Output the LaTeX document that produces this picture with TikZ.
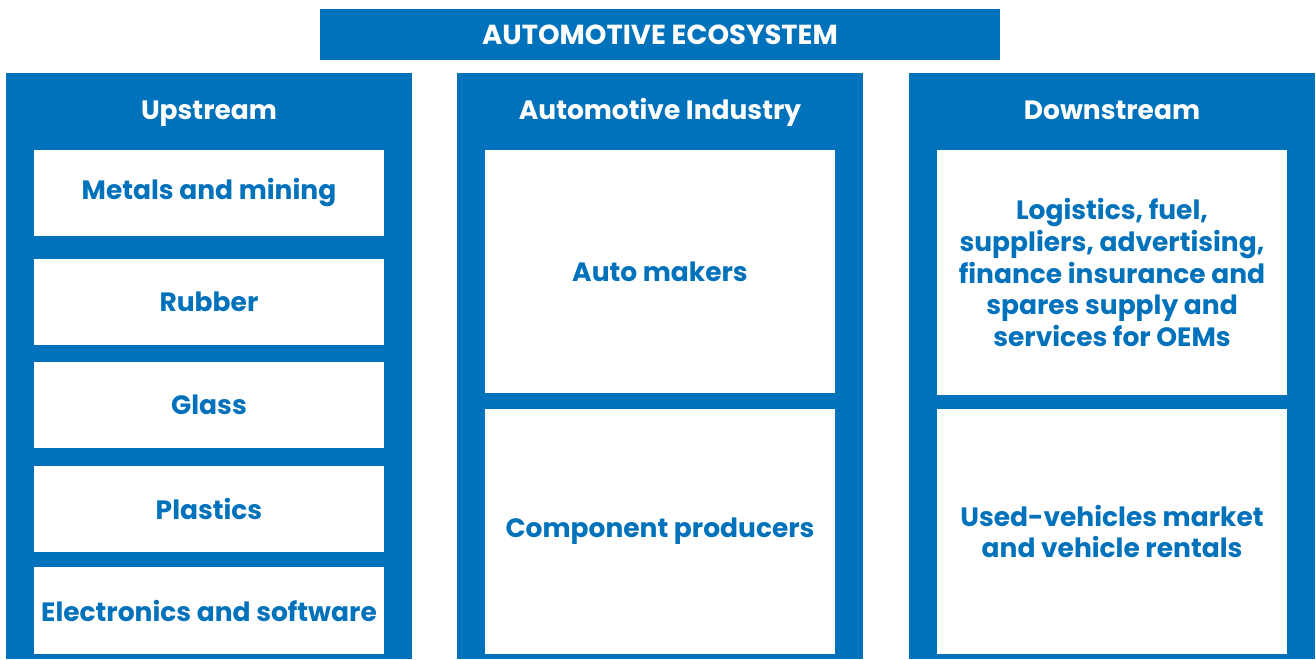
\documentclass[tikz,border=0pt]{standalone}
\usepackage{fontspec}
\setmainfont{Poppins}
\definecolor{eco}{HTML}{0072BB}
\begin{document}
\begin{tikzpicture}[x=1pt,y=-1pt,
  every node/.style={inner sep=0pt,outer sep=0pt,font=\bfseries},
  col/.style={fill=eco,anchor=north west,minimum width=406pt,minimum height=586pt},
  inbox/.style={fill=white,anchor=north west,minimum width=350pt,text=eco,align=center,font=\bfseries\fontsize{26.5}{31.8}\selectfont},
  head/.style={text=white,anchor=base,font=\bfseries\fontsize{26.5}{30}\selectfont},
]
\useasboundingbox (0,0) rectangle (1316,659);
\node[fill=eco,anchor=north west,minimum width=680pt,minimum height=51pt,text=white,font=\bfseries\fontsize{27.5}{30}\selectfont] (title) at (320,9) {AUTOMOTIVE ECOSYSTEM};

\node[col] (up) at (6,73) {};
\node[col] (ind) at (457,73) {};
\node[col] (down) at (909,73) {};

\node[head] (uph) at (209,119) {Upstream};
\node[head] (indh) at (660,119) {Automotive Industry};
\node[head] (downh) at (1112,119) {Downstream};

\node[inbox,minimum height=86pt] (u1) at (34,150) {Metals and mining};
\node[inbox,minimum height=86pt] (u2) at (34,259) {Rubber};
\node[inbox,minimum height=86pt] (u3) at (34,362) {Glass};
\node[inbox,minimum height=86pt] (u4) at (34,466) {Plastics};
\node[inbox,minimum height=87pt] (u5) at (34,567) {Electronics and software};

\node[inbox,minimum height=243pt] (i1) at (485,150) {Auto makers};
\node[inbox,minimum height=245pt] (i2) at (485,409) {Component producers};

\node[inbox,minimum height=245pt] (d1) at (937,150) {Logistics, fuel,\\suppliers, advertising,\\finance insurance and\\spares supply and\\services for OEMs};
\node[inbox,minimum height=245pt] (d2) at (937,409) {Used-vehicles market\\and vehicle rentals};
\end{tikzpicture}
\end{document}
